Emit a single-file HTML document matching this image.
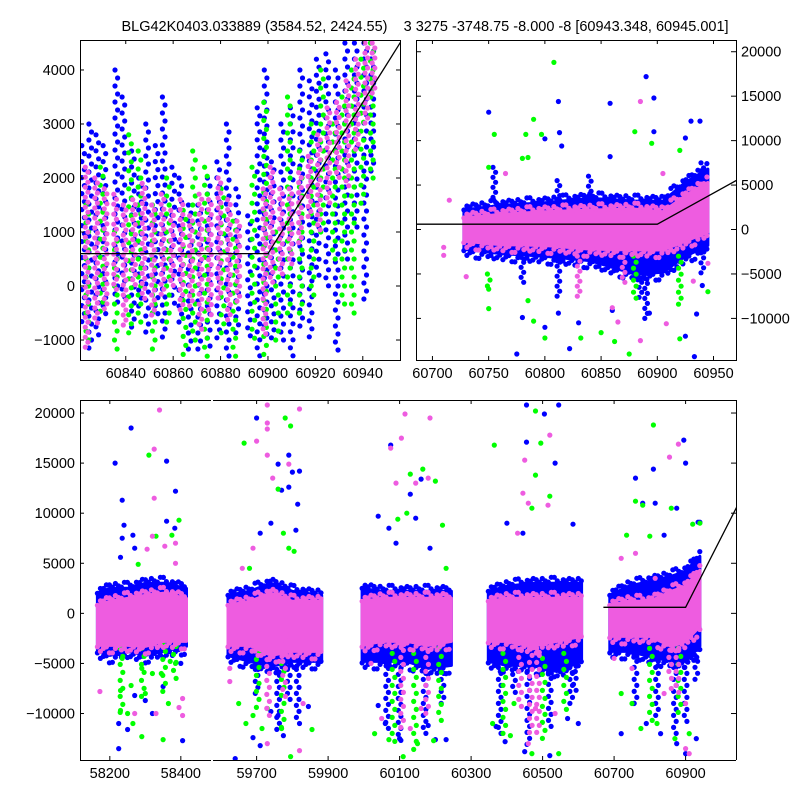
<!DOCTYPE html>
<html><head><meta charset="utf-8"><style>
html,body{margin:0;padding:0;background:#fff;}
svg{display:block;font-family:"Liberation Sans","DejaVu Sans",sans-serif;}
</style></head><body>
<svg id="chart" width="800" height="800" viewBox="0 0 800 800">
<rect x="0" y="0" width="800" height="800" fill="#fff"/>
<defs>
<clipPath id="cTL"><rect x="80" y="40" width="320" height="320"/></clipPath>
<clipPath id="cTR"><rect x="416.7" y="40" width="319.3" height="320"/></clipPath>
<clipPath id="cB1"><rect x="80" y="400" width="131" height="360"/></clipPath>
<clipPath id="cB2"><rect x="213" y="400" width="523" height="360"/></clipPath>
</defs>
<text x="425" y="31" text-anchor="middle" font-size="14.5" xml:space="preserve">BLG42K0403.033889 (3584.52, 2424.55)    3 3275 -3748.75 -8.000 -8 [60943.348, 60945.001]</text>
<g id="gTL" clip-path="url(#cTL)"></g>
<g id="gTR" clip-path="url(#cTR)"></g>
<g id="gB1" clip-path="url(#cB1)"></g>
<g id="gB2" clip-path="url(#cB2)"></g>
<g id="axes"></g>
</svg>
<script>
// ---------- fit model ----------
const fitBase = 600, fitT0 = 60900, fitSlope = 70;

// ---------- top-left (zoom) panel: streaks [t, lo, hi] ----------
const tlBlueStreaks = [[60822,-800,2600],[60825,-1200,3000],[60828,-1000,2800],[60831,-600,2600],[60836,-400,4000],[60839,-300,3500],[60843,-800,2500],[60846,-500,2000],[60849,-900,3000],[60853,-600,2600],[60856,-1000,3500],[60860,-400,2200],[60863,-800,2000],[60867,-1200,1500],[60871,-1300,1500],[60875,-1200,2000],[60879,-1000,2300],[60883,-1300,3000],[60887,-900,1800],[60892,-1000,1300],[60896,-1300,3300],[60899,-1000,4000],[60902,-1100,2300],[60906,-1000,3000],[60910,-1300,3300],[60914,-800,4000],[60918,-1000,3800],[60921,100,4200],[60925,0,4300],[60929,-1200,4000],[60933,400,4500],[60937,1000,4500],[60941,-300,4500],[60944,2000,4500]];
const tlGreenStreaks = [[60823,-1000,1500],[60829,-600,2200],[60835,-1200,1000],[60841,-1000,2800],[60845,-800,2500],[60851,-1200,1500],[60857,-800,2000],[60864,-1300,1400],[60868,-1000,2500],[60873,-1300,2200],[60880,-1000,1800],[60885,-1300,1200],[60893,-1100,2200],[60898,-1300,3400],[60903,-1000,1000],[60908,-500,3500],[60913,-600,2500],[60918,-300,3000],[60922,1000,4000],[60927,500,3000],[60931,-400,3500],[60935,-600,4000],[60939,1500,4200],[60943,2000,4500]];
const tlPinkStreaks = [[60822,-1200,2200],[60826,-700,2000],[60830,-500,1800],[60834,-100,1700],[60838,-800,1500],[60842,0,1600],[60846,-300,1900],[60850,-600,1500],[60854,-200,1700],[60858,0,1400],[60862,-500,1600],[60866,-400,1300],[60870,-800,1700],[60874,-600,1600],[60878,-300,2000],[60882,-700,1600],[60886,-300,1200],[60897,-900,1800],[60900,0,2200],[60904,200,1800],[60908,400,1800],[60912,800,2100],[60916,1200,2400],[60920,1000,2800],[60924,1500,3300],[60928,2000,3400],[60932,1800,3800],[60936,2500,4200],[60940,3000,4500],[60943,3500,4500]];

// ---------- top-right panel ----------
const trBandT = [60728,60760,60800,60840,60880,60905,60925,60945];
const trPinkHi = [1300,1700,2000,2200,2300,2000,3800,5300];
const trPinkLo = [-1300,-1700,-1800,-2200,-2300,-2300,-1300,-300];
const trBlueHi = [2200,2700,3000,3500,3200,3200,5300,6800];
const trBlueLo = [-2200,-2700,-3000,-3500,-5000,-4800,-3000,-1800];
const trBluePts = [[60750,13200],[60812,14400],[60813,10900],[60815,9400],[60800,10200],[60858,14200],[60858,8200],[60890,17200],[60897,14800],[60897,11000],[60930,12200],[60938,12200],[60925,10300],[60775,-14000],[60822,-13400],[60830,-10500],[60812,-9400],[60780,-9900],[60800,-11000],[60860,-9100],[60893,-9400],[60925,-12000],[60933,-14300],[60935,-9500],[60940,-6300]];
const trBlueStreaks = [[60840,-3000,6000],[60812,-4000,5500],[60812,-8000,-3000],[60890,-10000,-1000],[60885,-8000,-2000],[60940,-5000,7500],[60780,-6000,-2000],[60755,2500,7000]];
const trGreenPts = [[60808,18800],[60790,12400],[60755,10700],[60783,10700],[60797,10700],[60880,11000],[60895,9700],[60920,8900],[60750,7000],[60780,8000],[60785,8100],[60790,-10300],[60800,-12200],[60832,-12200],[60850,-11600],[60862,-12600],[60875,-14000],[60920,-12300],[60750,-8900],[60750,-6700],[60785,-8000],[60945,-7000]];
const trGreenStreaks = [[60750,-7000,-5000],[60880,-8000,-3000],[60920,-9000,-3000]];
const trPinkPts = [[60765,6300],[60885,14400],[60905,6300],[60715,3300],[60710,-2000],[60710,-2900],[60730,-5300],[60860,-8800],[60865,-10400],[60908,-10600],[60932,-5800],[60945,-3800],[60885,-12500]];
const trPinkStreaks = [[60830,-7500,-3000],[60870,-6000,-2000]];

// ---------- bottom panel: seasonal bands ----------
const s1T = [58165,58200,58250,58300,58350,58416];
const s1PinkHi = [800,1200,1500,1800,2000,1500], s1PinkLo = [-3200,-3200,-3200,-3300,-2800,-2800];
const s1BlueHi = [2000,2500,2500,3000,3000,2500], s1BlueLo = [-3800,-4200,-3800,-4200,-3800,-3300];
const s2T = [59620,59680,59740,59800,59882];
const s2PinkHi = [800,1200,2000,1200,1200], s2PinkLo = [-3200,-3200,-4200,-3800,-3800];
const s2BlueHi = [1800,2200,3000,2200,1800], s2BlueLo = [-4200,-4800,-5300,-4800,-4800];
const s3T = [59995,60050,60120,60180,60245];
const s3PinkHi = [1200,1500,1500,1500,1500], s3PinkLo = [-3200,-2800,-2800,-3200,-2800];
const s3BlueHi = [2500,2200,2200,2200,2200], s3BlueLo = [-4800,-4800,-4800,-5500,-5200];
const s4T = [60348,60400,60470,60540,60609];
const s4PinkHi = [1200,1500,1500,1500,1500], s4PinkLo = [-2800,-2800,-3300,-2800,-2300];
const s4BlueHi = [2200,2700,3000,3000,3000], s4BlueLo = [-4800,-5200,-5200,-5800,-4800];
const s5T = [60688,60740,60800,60860,60900,60940];
const s5PinkHi = [800,1200,1200,2200,2700,4300], s5PinkLo = [-2300,-2300,-2300,-3300,-2800,-1300];
const s5BlueHi = [1800,2700,3200,3700,4200,5700], s5BlueLo = [-3800,-3800,-4300,-4800,-4800,-3300];

// ---------- bottom panel: outliers ----------
const bBluePts = [[58215,15000],[58260,18500],[58235,11300],[58240,8800],[58235,7500],[58265,7800],[58270,6500],[58230,5600],[58360,15200],[58360,9200],[58385,12200],[58383,8500],[58350,-7300],[58320,-10000],[58405,-12700],[58225,-13500],[58225,-11000],[58250,-11600],[58270,-8200],[58300,-8700],[58400,-5000],
[59700,19500],[59710,8000],[59740,9000],[59760,14900],[59770,12300],[59790,15800],[59800,14100],[59815,10900],[59790,12600],[59810,8300],[59820,14200],[59740,-9800],[59690,-12400],[59710,-13200],[59760,-10200],[59775,-12200],[59640,-14500],[59845,-9300],[59820,-11000],
[60075,16800],[60040,9700],[60070,8500],[60090,7000],[60130,11900],[60160,13400],[60145,9500],[60185,6500],[60040,-9200],[60060,-11000],[60100,-12500],[60180,-11200],[60200,-12600],[60230,-12600],
[60455,20800],[60545,20800],[60505,19900],[60455,17100],[60535,15000],[60400,9000],[60445,8000],[60585,8900],[60370,-11300],[60395,-12800],[60450,-13800],[60520,-14200],[60600,-11000],[60570,-10500],
[60895,17300],[60900,15000],[60810,14400],[60760,13500],[60815,11000],[60780,11000],[60875,10500],[60935,9100],[60940,9100],[60840,7800],[60755,-9000],[60790,-11000],[60830,-12000],[60875,-13000],[60900,-14000],[60930,-12500],[60720,-12000]];
const bBlueStreaks = [[59760,-12000,-2000],[59790,-9000,-2000],[59815,-10500,-2000],[59700,-8000,-2000],[60065,-12000,-2500],[60100,-13000,-2500],[60170,-12500,-3000],[60220,-9000,-3000],[60380,-12000,-3000],[60460,-13500,-3500],[60520,-11500,-3500],[60580,-9500,-3000],[60590,-8000,2500],[60420,-8000,-2500],[60820,-10500,-3000],[60870,-12500,-3000],[60900,-11000,-3000],[60930,-7000,3000],[60760,-9000,-3000]];
const bGreenPts = [[58310,15800],[58395,9300],[58330,7700],[58375,7800],[58280,4900],[58230,-9700],[58230,-7700],[58250,-10000],[58265,-11000],[58290,-12300],[58300,-8000],[58350,-12600],[58345,-6000],[58370,-4800],[58385,-5000],[58235,-4500],[58260,-7200],[58320,-6000],[58365,-9000],[58290,-5500],
[59665,17000],[59780,19500],[59795,18700],[59760,12400],[59775,8000],[59790,6500],[59805,6200],[59680,4500],[59650,-9000],[59690,-10200],[59715,-11500],[59770,-11500],[59795,-14300],[59855,-11600],[59670,-11000],[59730,-9500],
[60130,13900],[60120,10000],[60095,9400],[60165,14400],[60200,13200],[60220,8800],[60230,4500],[60030,-12000],[60070,-12600],[60110,-14300],[60150,-13000],[60195,-12700],
[60365,16800],[60480,20200],[60495,17000],[60520,11700],[60480,13800],[60470,10500],[60360,-11000],[60410,-12200],[60470,-14000],[60545,-14000],[60420,-9000],
[60810,18800],[60760,11200],[60780,10800],[60860,10500],[60920,8900],[60940,9000],[60735,7800],[60800,7700],[60750,-9000],[60775,-11500],[60820,-11000],[60870,-12500],[60910,-12000],[60720,-8000]];
const bGreenStreaks = [[58230,-10500,-3500],[58290,-9000,-3500],[58350,-8000,-3000],[58380,-6500,-2500],[59770,-12000,-5000],[59700,-10000,-3000],[60080,-13500,-4000],[60140,-14000,-4000],[60210,-11000,-3500],[60390,-12000,-4000],[60500,-13000,-4500],[60560,-10000,-4000],[60800,-11000,-3500],[60880,-10000,-3500]];
const bPinkPts = [[58340,20300],[58325,16400],[58325,11500],[58320,7700],[58305,6400],[58355,6700],[58385,7000],[58385,5000],[58172,-7800],[58330,-10000],[58405,-10200],[58395,-9400],[58405,-8500],[58270,-10000],
[59730,20800],[59730,19000],[59730,18400],[59730,15800],[59745,13500],[59790,14900],[59820,20400],[59700,17200],[59690,6500],[59660,4500],[59625,-6800],[59625,-5500],[59820,-13700],[59730,-13000],[59830,-9000],
[60075,16500],[60115,19900],[60105,17500],[60185,19500],[60180,13500],[60145,13000],[60090,13000],[60020,-5000],[60050,-10500],[60130,-11500],[60160,-9500],
[60450,15300],[60445,12000],[60460,11000],[60520,17800],[60515,10800],[60430,8000],[60460,-13000],[60480,-9500],[60535,-10000],
[60880,16900],[60855,15600],[60760,6000],[60720,5500],[60815,3500],[60700,-4500],[60750,-5500],[60860,-7500],[60900,-9000],[60910,-14000],[60900,-13500],[60840,-8000]];
const bPinkStreaks = [[59780,-8800,-2000],[59735,-10500,-2500],[60110,-12000,-3000],[60180,-10000,-3000],[60470,-12500,-3500],[60490,-12000,-3500],[60440,-9500,-3000],[60880,-8500,-3000],[60860,-7000,-3000]];

// ---------- ticks ----------
const tlXTicks = [60840,60860,60880,60900,60920,60940];
const tlYTicks = [-1000,0,1000,2000,3000,4000];
const trXTicks = [60700,60750,60800,60850,60900,60950];
const trYTicks = [-10000,-5000,0,5000,10000,15000,20000];
const bYTicks = [-10000,-5000,0,5000,10000,15000,20000];
const b1XTicks = [58200,58400];
const b2XTicks = [59700,59900,60100,60300,60500,60700,60900];

// ---------- scales ----------
const lin = (d0,d1,r0,r1) => v => r0 + (v-d0)*(r1-r0)/(d1-d0);
const xTL = lin(60820.7,60955.7,80,400), yTL = lin(-1370,4555,360,40);
const xTR = lin(60686,60970,416.7,736), yTR = lin(-14680,21320,360,40);
const xB1 = lin(58116,58485,80,211), xB2 = lin(59578,61041,213,736), yB = lin(-14640,21300,760,400);
const xB = t => t < 59000 ? xB1(t) : xB2(t);
const gB = t => t < 59000 ? document.getElementById('gB1') : document.getElementById('gB2');

const NS = 'http://www.w3.org/2000/svg';
const BLUE = '#0000ff', GREEN = '#00ff00', PINK = '#ee5ce0';
const JIT = [0,3,-2,4,-3,1,-4,2,-1,5,-5,2];
function mk(tag, attrs, parent){const e=document.createElementNS(NS,tag);for(const k in attrs)e.setAttribute(k,attrs[k]);parent.appendChild(e);return e;}

function dot(g,x,y,c,name){
  const e = mk('circle',{cx:x.toFixed(1),cy:y.toFixed(1),r:2.6,fill:c},g);
  
  
}
function streak(g,xs,ys,t,lo,hi,c,step,name){
  const x=xs(t), y0=ys(hi), y1=ys(lo);
  let i=0;
  for(let y=y0;y<=y1+0.1;y+=step){dot(g,x+((i%2)?1.3:-1.3),y,c,name);i++;}
  if(y1-y0<step) dot(g,x,y1,c,name);
}
function interp(T,V,t){for(let i=0;i<T.length-1;i++){if(t<=T[i+1]){const f=(t-T[i])/(T[i+1]-T[i]);return V[i]+f*(V[i+1]-V[i]);}}return V[V.length-1];}
function band(g,xs,ys,T,hi,lo,c,name){
  let pts=[];
  for(let i=0;i<T.length;i++) pts.push(xs(T[i]).toFixed(1)+','+ys(hi[i]).toFixed(1));
  for(let i=T.length-1;i>=0;i--) pts.push(xs(T[i]).toFixed(1)+','+ys(lo[i]).toFixed(1));
  const e = mk('polygon',{points:pts.join(' '),fill:c,stroke:c,'stroke-width':3,'stroke-linejoin':'round'},g);
  
  
  // ragged fringe of points along the band edges
  const xa=xs(T[0]), xb=xs(T[T.length-1]);
  let k=0;
  for(let x=xa;x<=xb;x+=3){
    const t=T[0]+(x-xa)/(xb-xa)*(T[T.length-1]-T[0]);
    const yh=ys(interp(T,hi,t)), yl=ys(interp(T,lo,t));
    dot(g,x,yh-Math.abs(JIT[k%12])*1.2,c,name+'-edge');
    dot(g,x,yl+Math.abs(JIT[(k+5)%12])*1.5,c,name+'-edge');
    k++;
  }
}
function fitLine(g,xs,ys,tA,tB,name){
  const f=t=>t<=fitT0?fitBase:fitBase+fitSlope*(t-fitT0);
  const pts=[[tA,f(tA)],[fitT0,f(fitT0)],[tB,f(tB)]].map(p=>xs(p[0]).toFixed(1)+','+ys(p[1]).toFixed(1)).join(' ');
  const e = mk('polyline',{points:pts,fill:'none',stroke:'#000','stroke-width':1.3},g);
  
  
}

// ---- top-left
const gTL=document.getElementById('gTL');
tlBlueStreaks.forEach(s=>streak(gTL,xTL,yTL,s[0],s[1],s[2],BLUE,8,'blue-point'));
tlGreenStreaks.forEach(s=>streak(gTL,xTL,yTL,s[0]+0.8,s[1],s[2],GREEN,9,'green-point'));
tlPinkStreaks.forEach(s=>streak(gTL,xTL,yTL,s[0]+1.5,s[1],s[2],PINK,5,'pink-point'));
fitLine(gTL,xTL,yTL,60815,60960,'fit-line');

// ---- top-right
const gTR=document.getElementById('gTR');
band(gTR,xTR,yTR,trBandT,trBlueHi,trBlueLo,BLUE,'blue-band');
trBlueStreaks.forEach(s=>streak(gTR,xTR,yTR,s[0],s[1],s[2],BLUE,5,'blue-point'));
trBluePts.forEach(p=>dot(gTR,xTR(p[0]),yTR(p[1]),BLUE,'blue-point'));
trGreenStreaks.forEach(s=>streak(gTR,xTR,yTR,s[0],s[1],s[2],GREEN,6,'green-point'));
trGreenPts.forEach(p=>dot(gTR,xTR(p[0]),yTR(p[1]),GREEN,'green-point'));
band(gTR,xTR,yTR,trBandT,trPinkHi,trPinkLo,PINK,'pink-band');
trPinkStreaks.forEach(s=>streak(gTR,xTR,yTR,s[0],s[1],s[2],PINK,5,'pink-point'));
trPinkPts.forEach(p=>dot(gTR,xTR(p[0]),yTR(p[1]),PINK,'pink-point'));
fitLine(gTR,xTR,yTR,60680,60980,'fit-line');

// ---- bottom
const seasons=[[s1T,s1PinkHi,s1PinkLo,s1BlueHi,s1BlueLo],[s2T,s2PinkHi,s2PinkLo,s2BlueHi,s2BlueLo],[s3T,s3PinkHi,s3PinkLo,s3BlueHi,s3BlueLo],[s4T,s4PinkHi,s4PinkLo,s4BlueHi,s4BlueLo],[s5T,s5PinkHi,s5PinkLo,s5BlueHi,s5BlueLo]];
seasons.forEach(s=>band(gB(s[0][0]),xB,yB,s[0],s[3],s[4],BLUE,'blue-band'));
bBlueStreaks.forEach(s=>streak(gB(s[0]),xB,yB,s[0],s[1],s[2],BLUE,6,'blue-point'));
bBluePts.forEach(p=>dot(gB(p[0]),xB(p[0]),yB(p[1]),BLUE,'blue-point'));
bGreenStreaks.forEach(s=>streak(gB(s[0]),xB,yB,s[0]+3,s[1],s[2],GREEN,8,'green-point'));
bGreenPts.forEach(p=>dot(gB(p[0]),xB(p[0]),yB(p[1]),GREEN,'green-point'));
seasons.forEach(s=>band(gB(s[0][0]),xB,yB,s[0],s[1],s[2],PINK,'pink-band'));
bPinkStreaks.forEach(s=>streak(gB(s[0]),xB,yB,s[0]-3,s[1],s[2],PINK,7,'pink-point'));
bPinkPts.forEach(p=>dot(gB(p[0]),xB(p[0]),yB(p[1]),PINK,'pink-point'));
fitLine(document.getElementById('gB2'),xB2,yB,60670,61050,'fit-line');

// ---- axes
const ax=document.getElementById('axes');
function line(x1,y1,x2,y2,name){const e=mk('line',{x1,y1,x2,y2,stroke:'#000','stroke-width':1},ax);}
function txt(x,y,s,anchor,name){const e=mk('text',{x,y,'font-size':14.5,'text-anchor':anchor},ax);e.textContent=s;}
const fmt=v=>String(v).replace('-','\u2212');
function box(l,t,r,b,name){const e=mk('rect',{x:l,y:t,width:r-l,height:b-t,fill:'none',stroke:'#000','stroke-width':1},ax);}
// top-left
box(80.5,40.5,400.5,360.5,'zoom-panel-frame');
tlXTicks.forEach(v=>{const x=xTL(v);line(x,360,x,356,'x-tick');line(x,40,x,44,'x-tick');txt(x,378,fmt(v),'middle','x-tick-label');});
tlYTicks.forEach(v=>{const y=yTL(v);line(80,y,84,y,'y-tick');line(400,y,396,y,'y-tick');txt(75,y+5,fmt(v),'end','y-tick-label');});
// top-right
box(416.5,40.5,736.5,360.5,'season-panel-frame');
trXTicks.forEach(v=>{const x=xTR(v);line(x,360,x,356,'x-tick');line(x,40,x,44,'x-tick');txt(x,378,fmt(v),'middle','x-tick-label');});
trYTicks.forEach(v=>{const y=yTR(v);line(736,y,731,y,'y-tick');line(417,y,421,y,'y-tick');txt(741,y+5,fmt(v),'start','y-tick-label');});
// bottom
line(80.5,400,80.5,760,'left-spine');line(80,400.5,211,400.5,'top-spine');line(80,760.5,211,760.5,'bottom-spine');
line(736.5,400,736.5,760,'right-spine');line(213,400.5,736,400.5,'top-spine');line(213,760.5,736,760.5,'bottom-spine');
b1XTicks.forEach(v=>{const x=xB1(v);line(x,760,x,756,'x-tick');line(x,400,x,404,'x-tick');txt(x,778,fmt(v),'middle','x-tick-label');});
b2XTicks.forEach(v=>{const x=xB2(v);line(x,760,x,756,'x-tick');line(x,400,x,404,'x-tick');txt(x,778,fmt(v),'middle','x-tick-label');});
bYTicks.forEach(v=>{const y=yB(v);line(80,y,84,y,'y-tick');line(736,y,731,y,'y-tick');txt(75,y+5,fmt(v),'end','y-tick-label');});
</script>
</body></html>
